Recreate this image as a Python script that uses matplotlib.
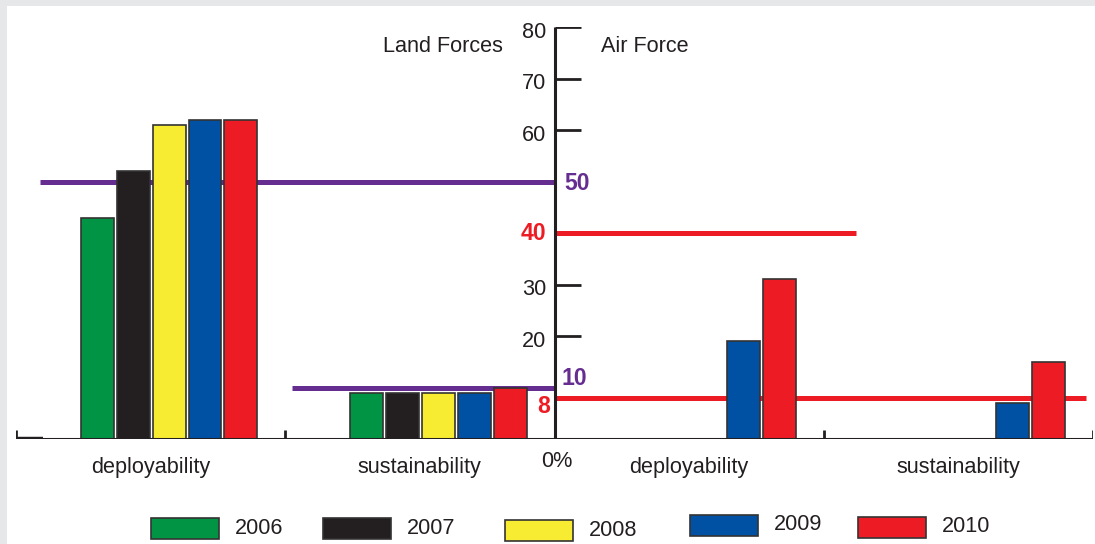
import matplotlib
matplotlib.use("Agg")
import matplotlib.pyplot as plt
from matplotlib.patches import Rectangle

# ---------------------------------------------------------------
# DATA: share of forces (%) per year, None where not reported
# ---------------------------------------------------------------
years = ['2006', '2007', '2008', '2009', '2010']
bar_colors = ['#009444', '#231f20', '#f7ec31', '#0050a4', '#ed1c24']
group_labels = ['deployability', 'sustainability', 'deployability', 'sustainability']

land_deployability = [43, 52, 61, 62, 62]
land_sustainability = [9, 9, 9, 9, 10]
air_deployability = [None, None, None, 19, 31]
air_sustainability = [None, None, None, 7, 15]

land_targets = [50, 10]   # deployability, sustainability
air_targets = [40, 8]
tick_values = [20, 30, 60, 70, 80]

INK = '#231f20'
PURPLE = '#662d91'
RED = '#ed1c24'
FS = 15.6

plt.rcParams['font.family'] = ['Liberation Sans', 'DejaVu Sans']

fig = plt.figure(figsize=(10.95, 5.44), dpi=100)
fig.patch.set_facecolor('#e6e7e9')
fig.patches.append(Rectangle((7 / 1095, 0), 1, 1 - 6 / 544, transform=fig.transFigure,
                             facecolor='white', edgecolor='none', zorder=-5))

ax = fig.add_axes([16 / 1095, 105 / 544, 1077 / 1095, 412 / 544])
ax.set_xlim(0, 4)
ax.set_ylim(0, 80)
ax.axis('off')

# ---------------------------------------------------------------
# BARS: each group is one x unit, five year slots inside it
# ---------------------------------------------------------------
slot = 36 / 270
bar_w = 33 / 270
first = 65 / 270
series = [land_deployability, land_sustainability, air_deployability, air_sustainability]
for g, vals in enumerate(series):
    for i, v in enumerate(vals):
        if v is None:
            continue
        ax.bar(g + first + i * slot, v, width=bar_w, align='edge', color=bar_colors[i],
               edgecolor='#333333', linewidth=1.2, zorder=3)

# target lines
ax.plot([0.089, 2], [land_targets[0]] * 2, color=PURPLE, lw=3.6, solid_capstyle='butt', zorder=2)
ax.plot([1.026, 2], [land_targets[1]] * 2, color=PURPLE, lw=3.6, solid_capstyle='butt', zorder=2)
ax.plot([2, 3.119], [air_targets[0]] * 2, color=RED, lw=3.6, solid_capstyle='butt', zorder=2)
ax.plot([2, 3.974], [air_targets[1]] * 2, color=RED, lw=3.6, solid_capstyle='butt', zorder=2)

# axes drawn by hand: central value axis and base line with group dividers
ax.plot([2, 2], [0, 80], color=INK, lw=2.2, solid_capstyle='butt', zorder=5)
for t in tick_values:
    ax.plot([2, 2 + 27 / 270], [t, t], color=INK, lw=2, solid_capstyle='butt', zorder=5)
    ax.text(1.97, t - 1.0, str(t), ha='right', va='center', fontsize=FS, color=INK)
ax.plot([0, 4], [0, 0], color=INK, lw=2.2, solid_capstyle='butt', zorder=5)
ax.plot([0, 0.1], [0, 0], color=INK, lw=3.2, solid_capstyle='butt', zorder=5)
for x in [0, 1, 3, 4]:
    ax.plot([x, x], [0, 1.75], color=INK, lw=2, solid_capstyle='butt', zorder=5)

# target labels
ax.text(2.037, land_targets[0] - 0.3, str(land_targets[0]), ha='left', va='center',
        fontsize=FS + 1, fontweight='bold', color=PURPLE)
ax.text(2.026, land_targets[1] + 1.8, str(land_targets[1]), ha='left', va='center',
        fontsize=FS + 1, fontweight='bold', color=PURPLE)
ax.text(1.97, air_targets[0], str(air_targets[0]), ha='right', va='center',
        fontsize=FS + 1, fontweight='bold', color=RED)
ax.text(1.985, air_targets[1] - 1.7, str(air_targets[1]), ha='right', va='center',
        fontsize=FS + 1, fontweight='bold', color=RED)

ax.text(2.007, -4.3, '0%', ha='center', va='center', fontsize=FS, color=INK)
ax.text(1.81, 76.2, 'Land Forces', ha='right', va='center', fontsize=FS, color=INK)
ax.text(2.174, 76.2, 'Air Force', ha='left', va='center', fontsize=FS, color=INK)

for g, lab in enumerate(group_labels):
    ax.text(g + 0.5, -5.5, lab, ha='center', va='center', fontsize=FS, color=INK)

# ---------------------------------------------------------------
# LEGEND: colour swatches with year labels along the bottom
# ---------------------------------------------------------------
swatch_x = [151, 323, 505, 690, 858]
swatch_y = [518, 518, 520, 515, 517]
for i, yr in enumerate(years):
    x0, y0 = swatch_x[i], swatch_y[i]
    fig.patches.append(Rectangle((x0 / 1095, 1 - (y0 + 21) / 544), 68 / 1095, 21 / 544,
                                 transform=fig.transFigure, facecolor=bar_colors[i],
                                 edgecolor='#333333', linewidth=1.2, zorder=2))
    fig.text((x0 + 84) / 1095, 1 - (y0 + 10) / 544, yr, ha='left', va='center',
             fontsize=FS, color=INK)

plt.savefig('out.png', dpi=100, facecolor=fig.get_facecolor())
plt.close()
